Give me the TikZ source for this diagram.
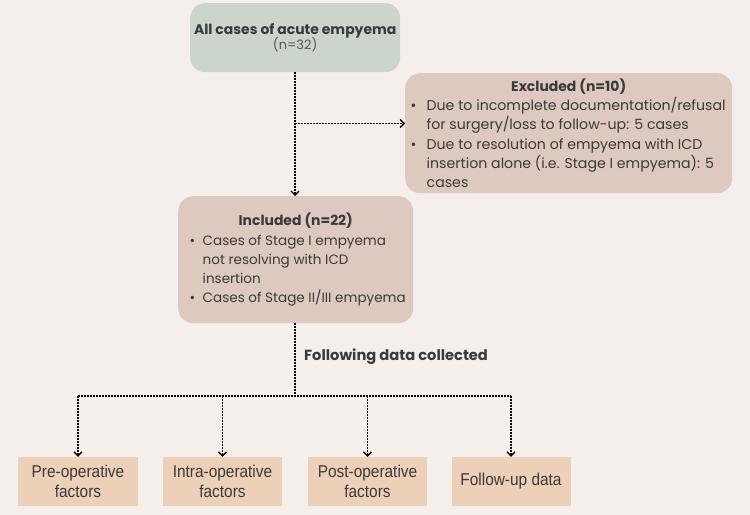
\documentclass[tikz,border=0pt]{standalone}
\usepackage{fontspec}
\setmainfont{Poppins}
\newfontfamily\narrowfont[FakeStretch=0.9]{Liberation Sans}
\usetikzlibrary{arrows.meta}
\definecolor{bgc}{HTML}{F4EFEA}
\definecolor{topc}{HTML}{CCD5CC}
\definecolor{midc}{HTML}{DEC9C0}
\definecolor{botc}{HTML}{EDD0B8}
\definecolor{txtc}{HTML}{3A3A3A}
\newcommand{\bitem}[2][16bp]{\par\noindent\hangindent=#1\hangafter=1\makebox[#1][l]{\textbullet}#2}
\newcommand{\lbr}{\hfil\break}
\tikzset{
  roundbox/.style={rounded corners=15bp, inner sep=0pt, text=txtc},
  factorbox/.style={fill=botc, minimum width=119bp, minimum height=49bp, inner sep=0pt, text=txtc, align=center, font=\narrowfont\fontsize{17.2}{20}\selectfont},
  dotline/.style={draw=black, line width=1.5bp, dash pattern=on 1.5bp off 1.5bp},
  dotarrow/.style={dotline, -{Straight Barb[length=4bp,width=8bp,line width=1.3bp]}}
}
\begin{document}
\begin{tikzpicture}[x=1bp,y=-1bp]
\useasboundingbox (0,0) rectangle (750,515);
\fill[bgc] (0,0) rectangle (750,515);
% top box
\node[roundbox, fill=topc, minimum width=210bp, minimum height=69bp, align=center, anchor=north west] (all) at (190,3)
  {{\bfseries\fontsize{14}{20}\selectfont All cases of acute empyema}\\[-1bp]{\fontsize{13}{16}\selectfont\color{txtc!85}(n=32)}};
% excluded box
\node[roundbox, fill=midc, minimum width=327bp, minimum height=120bp, anchor=north west] (exc) at (405,73)
  {\begin{minipage}{316bp}\fontsize{14.2}{19.2}\selectfont
   \centering{\bfseries\fontsize{14}{19.2}\selectfont Excluded (n=10)}\par\raggedright
   \bitem{Due to incomplete documentation/refusal for surgery/loss to follow-up: 5 cases}
   \bitem{Due to resolution of empyema with ICD insertion alone (i.e. Stage I empyema): 5 cases}
   \end{minipage}};
% included box
\node[roundbox, fill=midc, minimum width=235bp, minimum height=127bp, anchor=north west] (inc) at (178,196)
  {\hspace*{6bp}\begin{minipage}{218bp}\fontsize{13.6}{19.2}\selectfont
   \centering{\bfseries\fontsize{14}{19.2}\selectfont Included (n=22)\hspace*{6bp}}\par\raggedright
   \bitem[13bp]{Cases of Stage I empyema\lbr not resolving with ICD\lbr insertion}
   \bitem[13bp]{\mbox{Cases of Stage II/III empyema}}
   \end{minipage}};
% factor boxes
\node[factorbox] (pre) at (78,481.5) {Pre-operative\\factors};
\node[factorbox] (intra) at (222.5,481.5) {Intra-operative\\factors};
\node[factorbox] (post) at (367.5,481.5) {Post-operative\\factors};
\node[factorbox] (fol) at (511,481.5) {Follow-up data};
% connectors
\coordinate (br) at (295,123.5);
\coordinate (hub) at (295,396);
\draw[dotarrow] (all.south -| br) -- (inc.north -| br);
\draw[dotarrow] (br) -- (exc.west |- br);
\draw[dotline] (inc.south -| hub) -- (hub);
\node[anchor=west, text=txtc, font=\bfseries\fontsize{14.7}{16}\selectfont, inner sep=0pt] (fdc) at (304,357) {Following data collected};
\draw[dotline] (pre.north |- hub) -- (fol.north |- hub);
\draw[dotarrow] (pre.north |- hub) -- (pre.north);
\draw[dotarrow] (intra.north |- hub) -- (intra.north);
\draw[dotarrow] (post.north |- hub) -- (post.north);
\draw[dotarrow] (fol.north |- hub) -- (fol.north);
\end{tikzpicture}
\end{document}
